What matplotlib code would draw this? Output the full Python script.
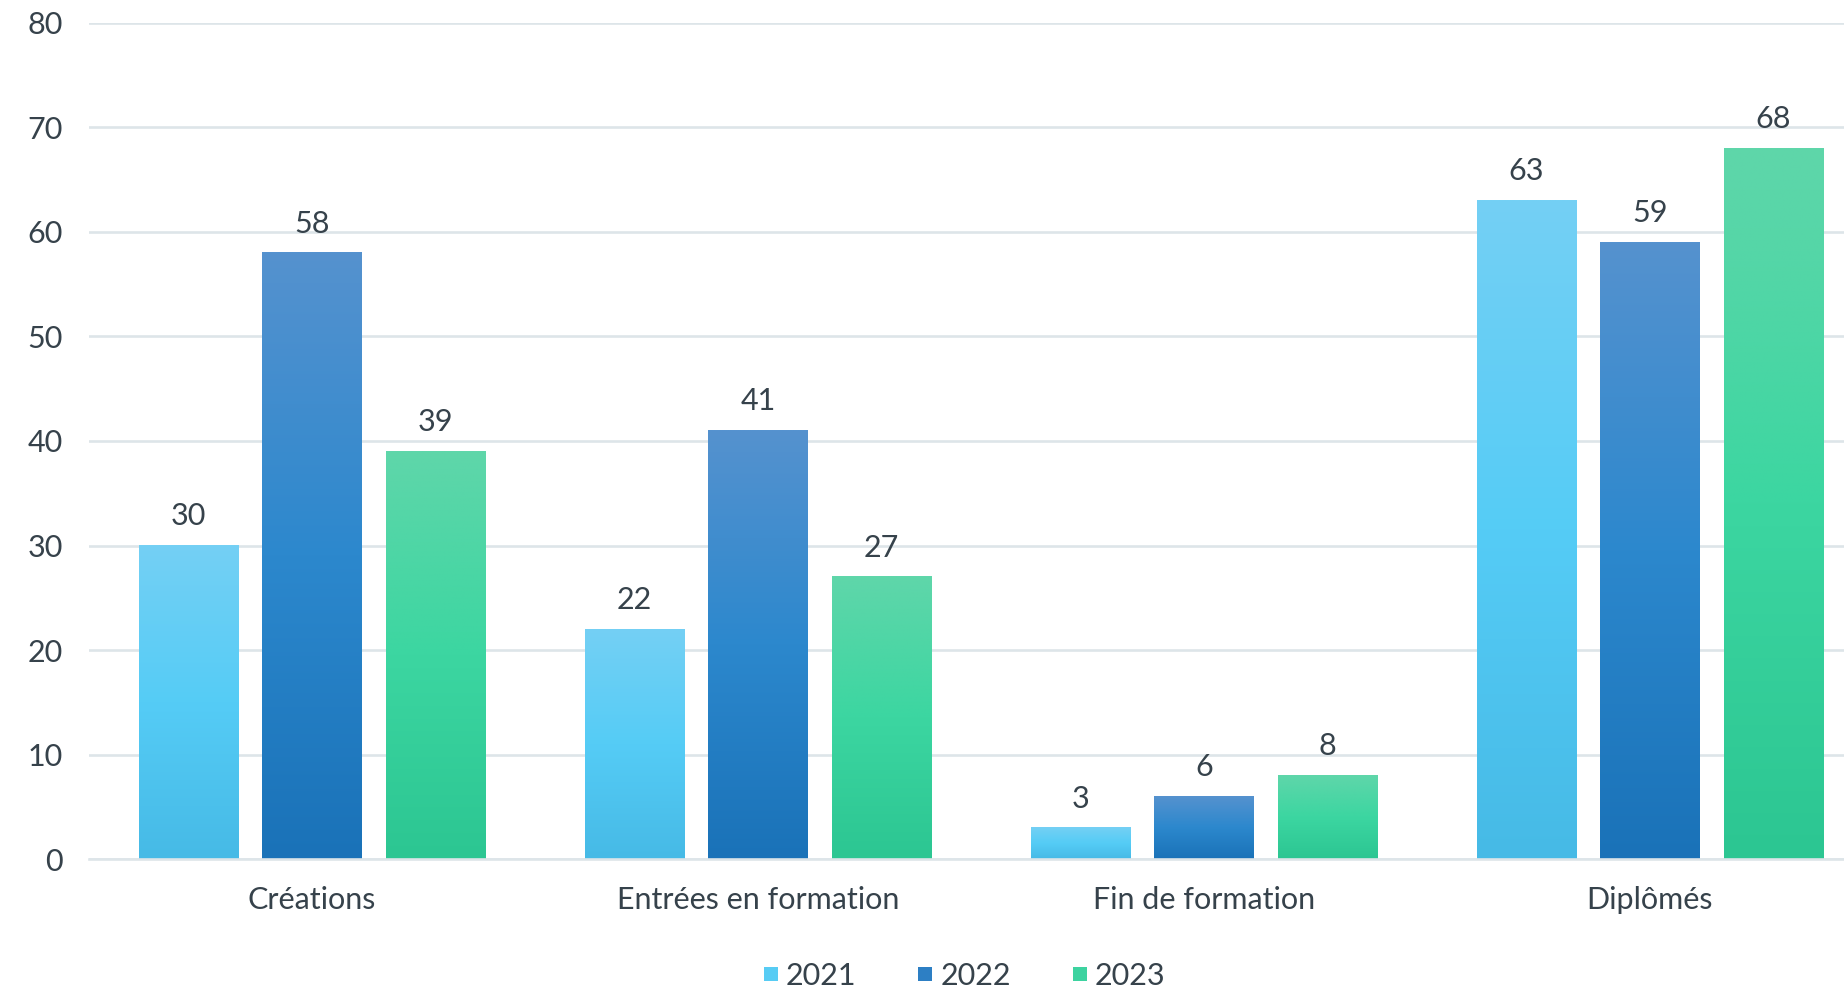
import numpy as np
import matplotlib
matplotlib.use('Agg')
import matplotlib.pyplot as plt
from matplotlib.colors import LinearSegmentedColormap
from matplotlib.lines import Line2D

# données
categories = ['Créations', 'Entrées en formation', 'Fin de formation', 'Diplômés']
years = ['2021', '2022', '2023']
v2021 = [30, 22, 3, 63]
v2022 = [58, 41, 6, 59]
v2023 = [39, 27, 8, 68]
yticks = [0, 10, 20, 30, 40, 50, 60, 70, 80]

series = [v2021, v2022, v2023]
# dégradés bas -> milieu -> haut
grad = {
    '2021': ['#46BAE6', '#55CCF6', '#74D0F4'],
    '2022': ['#1A72B8', '#2C88CD', '#5592CF'],
    '2023': ['#2CC692', '#3CD6A1', '#5FD6AA'],
}
legend_colors = {'2021': '#57CCF4', '2022': '#2D7FC4', '2023': '#3DD3A0'}
txt = '#36424B'
grid_c = '#DDE5E9'

plt.rcParams['font.family'] = ['Lato', 'DejaVu Sans']

fig = plt.figure(figsize=(18.44, 9.9), dpi=100)
ax = fig.add_axes([0.0483, 0.1323, 0.9517, 0.8445])

x = np.arange(len(categories))
width = 0.224
step = 0.277
ramp = np.linspace(0, 1, 256).reshape(-1, 1)

for i, (yr, vals) in enumerate(zip(years, series)):
    bars = ax.bar(x + (i - 1) * step, vals, width, color='none', zorder=3)
    cmap = LinearSegmentedColormap.from_list(yr, grad[yr])
    for b, v in zip(bars, vals):
        x0, y0 = b.get_x(), b.get_y()
        w, h = b.get_width(), b.get_height()
        ax.imshow(ramp, extent=(x0, x0 + w, y0, y0 + h), origin='lower',
                  cmap=cmap, aspect='auto', zorder=3, interpolation='bilinear')
        ax.annotate(str(v), (x0 + w / 2, y0 + h), xytext=(0, 14.5),
                    textcoords='offset points', ha='center', va='baseline',
                    fontsize=22, color=txt)

ax.set_xlim(-0.5, 3.435)
ax.set_ylim(0, 80)
ax.set_yticks(yticks)
ax.set_xticks(x)
ax.set_xticklabels(categories)
ax.tick_params(axis='both', length=0, labelsize=22, labelcolor=txt)
ax.tick_params(axis='y', pad=19)
ax.tick_params(axis='x', pad=19.5)

ax.grid(axis='y', color=grid_c, linewidth=1.9, zorder=0)
ax.set_axisbelow(True)
for s in ['top', 'right', 'left']:
    ax.spines[s].set_visible(False)
ax.spines['bottom'].set_color(grid_c)
ax.spines['bottom'].set_linewidth(1.9)
ax.spines['bottom'].set_zorder(4)

handles = [Line2D([], [], marker='s', linestyle='none', markersize=10,
                  markerfacecolor=legend_colors[yr], markeredgewidth=0)
           for yr in years]
fig.legend(handles, years, loc='center', bbox_to_anchor=(0.523, 0.014),
           ncol=3, frameon=False, fontsize=22, labelcolor=txt,
           handlelength=0.5, handletextpad=0.25, columnspacing=2.0,
           borderaxespad=0, borderpad=0)

fig.savefig('out.png', dpi=100, facecolor='white')
